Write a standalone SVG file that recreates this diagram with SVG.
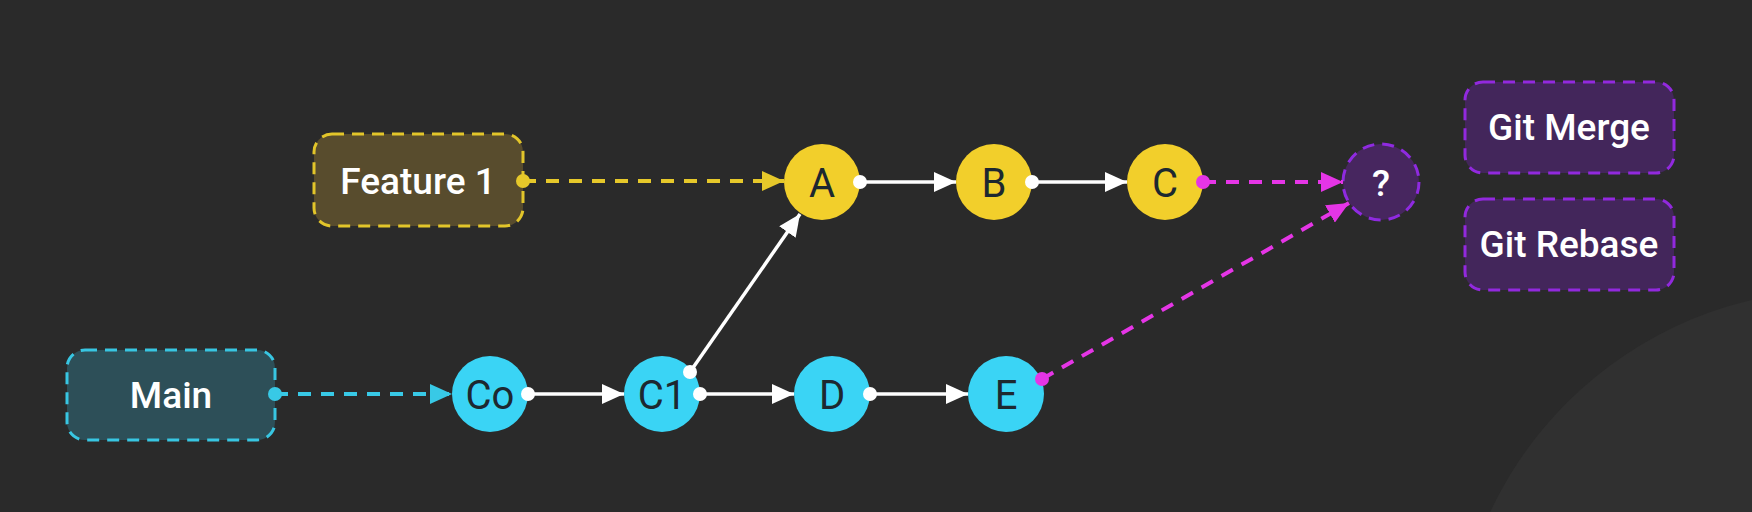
<svg xmlns="http://www.w3.org/2000/svg" width="1752" height="512" viewBox="0 0 1752 512">
<defs>
<style>
.lbl{font-family:Roboto,"Noto Sans","Liberation Sans",sans-serif;text-anchor:middle;dominant-baseline:central}
.box-text{fill:#ffffff;font-size:37px;font-weight:500}
.node-text{fill:#1d2830;font-size:40px;font-weight:400}
.cyan{fill:#3ad4f5}
.yellow{fill:#f2cf2b}
.wire{stroke:#ffffff;stroke-width:3.5;fill:none}
.dash{stroke-width:4;stroke-dasharray:13 10;fill:none}
.bdash{stroke-width:3;stroke-dasharray:12 8}
</style>
<marker id="aw" viewBox="0 0 22 20" refX="22" refY="10" markerWidth="22" markerHeight="20" markerUnits="userSpaceOnUse" orient="auto"><path d="M0,0 L22,10 L0,20 Z" fill="#ffffff"/></marker>
<marker id="ac" viewBox="0 0 22 20" refX="22" refY="10" markerWidth="22" markerHeight="20" markerUnits="userSpaceOnUse" orient="auto"><path d="M0,0 L22,10 L0,20 Z" fill="#38c9e6"/></marker>
<marker id="ay" viewBox="0 0 22 20" refX="22" refY="10" markerWidth="22" markerHeight="20" markerUnits="userSpaceOnUse" orient="auto"><path d="M0,0 L22,10 L0,20 Z" fill="#e6c82a"/></marker>
<marker id="am" viewBox="0 0 22 20" refX="22" refY="10" markerWidth="22" markerHeight="20" markerUnits="userSpaceOnUse" orient="auto"><path d="M0,0 L22,10 L0,20 Z" fill="#e535e6"/></marker>
</defs>
<rect x="0" y="0" width="1752" height="512" fill="#2a2a2a"/>
<circle cx="1839" cy="675" r="385" fill="#303030"/>

<g id="main">
<rect x="67" y="350" width="208" height="90" rx="18" fill="#2d4f58" stroke="#38c6e2" class="bdash"/>
<text class="lbl box-text" x="171" y="395">Main</text>
</g>
<g id="feature1">
<rect x="314" y="134" width="209" height="92" rx="18" fill="#584c2d" stroke="#e2c52a" class="bdash"/>
<text class="lbl box-text" x="418" y="181">Feature 1</text>
</g>
<g id="git-merge">
<rect x="1465" y="82" width="209" height="91" rx="18" fill="#43265b" stroke="#9229de" class="bdash"/>
<text class="lbl box-text" x="1569" y="127">Git Merge</text>
</g>
<g id="git-rebase">
<rect x="1465" y="199" width="209" height="91" rx="18" fill="#43265b" stroke="#9229de" class="bdash"/>
<text class="lbl box-text" x="1569" y="244">Git Rebase</text>
</g>

<g id="node-co"><circle class="cyan" cx="490" cy="394" r="38"/><text class="lbl node-text" x="490" y="395">Co</text></g>
<g id="node-c1"><circle class="cyan" cx="662" cy="394" r="38"/><text class="lbl node-text" x="662" y="395">C1</text></g>
<g id="node-d"><circle class="cyan" cx="832" cy="394" r="38"/><text class="lbl node-text" x="832" y="395">D</text></g>
<g id="node-e"><circle class="cyan" cx="1006" cy="394" r="38"/><text class="lbl node-text" x="1006" y="395">E</text></g>
<g id="node-a"><circle class="yellow" cx="822" cy="182" r="38"/><text class="lbl node-text" x="822" y="183">A</text></g>
<g id="node-b"><circle class="yellow" cx="994" cy="182" r="38"/><text class="lbl node-text" x="994" y="183">B</text></g>
<g id="node-c"><circle class="yellow" cx="1165" cy="182" r="38"/><text class="lbl node-text" x="1165" y="183">C</text></g>
<g id="node-q"><circle cx="1381" cy="182" r="38" fill="#47265f" stroke="#8f2ae0" class="bdash"/><text class="lbl box-text" x="1381" y="183">?</text></g>

<g id="connectors">
<line class="dash" x1="275" y1="394" x2="452" y2="394" stroke="#38c9e6" marker-end="url(#ac)"/>
<circle cx="275" cy="394" r="7" fill="#38c9e6"/>
<line class="dash" x1="523" y1="181" x2="784" y2="181" stroke="#e6c82a" marker-end="url(#ay)"/>
<circle cx="523" cy="181" r="7" fill="#e6c82a"/>
<line class="wire" x1="528" y1="394" x2="624" y2="394" marker-end="url(#aw)"/>
<circle cx="528" cy="394" r="7" fill="#ffffff"/>
<line class="wire" x1="700" y1="394" x2="794" y2="394" marker-end="url(#aw)"/>
<circle cx="700" cy="394" r="7" fill="#ffffff"/>
<line class="wire" x1="870" y1="394" x2="968" y2="394" marker-end="url(#aw)"/>
<circle cx="870" cy="394" r="7" fill="#ffffff"/>
<line class="wire" x1="690" y1="372" x2="800" y2="214" marker-end="url(#aw)"/>
<circle cx="690" cy="372" r="7" fill="#ffffff"/>
<line class="wire" x1="860" y1="182" x2="956" y2="182" marker-end="url(#aw)"/>
<circle cx="860" cy="182" r="7" fill="#ffffff"/>
<line class="wire" x1="1032" y1="182" x2="1127" y2="182" marker-end="url(#aw)"/>
<circle cx="1032" cy="182" r="7" fill="#ffffff"/>
<line class="dash" x1="1203" y1="182" x2="1343" y2="182" stroke="#e535e6" marker-end="url(#am)"/>
<circle cx="1203" cy="182" r="7" fill="#e535e6"/>
<line class="dash" x1="1042" y1="379" x2="1349" y2="203" stroke="#e535e6" marker-end="url(#am)"/>
<circle cx="1042" cy="379" r="7" fill="#e535e6"/>
</g>
</svg>
